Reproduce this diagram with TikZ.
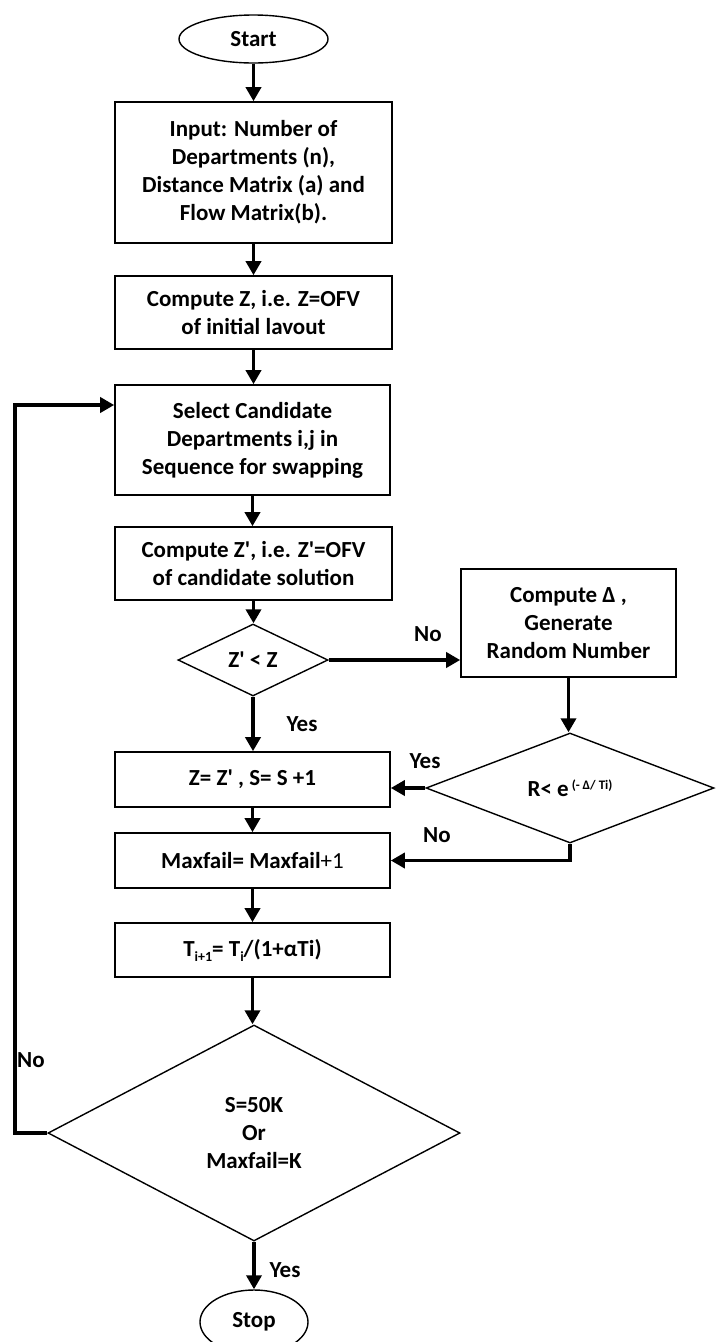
\documentclass[tikz,border=0pt]{standalone}
\usepackage{fontspec}
\setmainfont{Carlito}
\usetikzlibrary{shapes.geometric,arrows.meta,calc}
\newcommand\aq{\textquotesingle}
\begin{document}
\begin{tikzpicture}[x=1pt,y=-1pt,
  every node/.style={font=\fontsize{23}{28}\selectfont\bfseries},
  box/.style={draw, line width=1.6pt, rectangle, inner sep=0pt, align=center},
  term/.style={draw, line width=1.4pt, ellipse, inner sep=0pt},
  dec/.style={draw, line width=1.4pt, diamond, inner sep=0pt, align=center},
  arr/.style={line width=3.6pt, -{Triangle[length=14pt,width=15pt]}},
  lbl/.style={anchor=base, inner sep=0pt}]
\useasboundingbox (0,0) rectangle (719,1342);
\clip (0,0) rectangle (719,1342);
\node[term, minimum width=149pt, minimum height=48pt] (start) at (253.5,39) {Start};
\node[box, minimum width=277pt, minimum height=141pt] (input) at (253.5,172.5) {Input: Number of\\Departments (n),\\Distance Matrix (a) and\\Flow Matrix(b).};
\node[box, minimum width=277pt, minimum height=73pt] (cz) at (253.5,312.5) {Compute Z, i.e. Z=OFV\\of initial lavout};
\node[box, minimum width=275pt, minimum height=110pt] (sel) at (252.5,440) {Select Candidate\\Departments i,j in\\Sequence for swapping};
\node[box, minimum width=277pt, minimum height=73pt] (czp) at (253.5,563.5) {Compute Z\aq, i.e. Z\aq=OFV\\of candidate solution};
\node[dec, minimum width=150pt, minimum height=72pt, shape aspect=2.08] (zd) at (253,660) {Z\aq{} < Z};
\node[box, minimum width=215pt, minimum height=108pt] (delta) at (568.5,623) {Compute Δ ,\\Generate\\Random Number};
\node[dec, minimum width=288pt, minimum height=110pt, shape aspect=2.6] (rd) at (570,788) {R<~e\hspace{3pt}\raisebox{7pt}{\fontsize{13}{13}\selectfont (- Δ/ Ti)}};
\node[box, minimum width=275pt, minimum height=55pt] (zs) at (252.5,779.5) {Z= Z\aq{} , S= S +1};
\node[box, minimum width=275pt, minimum height=55pt] (mf) at (252.5,860.5) {Maxfail= Maxfail{\mdseries+1}};
\node[box, minimum width=275pt, minimum height=54pt] (tb) at (252.5,950) {T\raisebox{-5pt}{\fontsize{14}{14}\selectfont i+1}= T\raisebox{-5pt}{\fontsize{14}{14}\selectfont i}/(1+αTi)};
\node[dec, minimum width=412pt, minimum height=216pt, shape aspect=1.9] (bd) at (254,1133) {S=50K\\Or\\Maxfail=K};
\node[term, minimum width=108pt, minimum height=64pt] (stop) at (254,1322) {Stop};
\draw[arr] (start.south) -- (start.south |- input.north);
\draw[arr] (input.south) -- (input.south |- cz.north);
\draw[arr] (cz.south) -- (cz.south |- sel.north);
\draw[arr] (sel.south) -- (sel.south |- czp.north);
\draw[arr] (czp.south) -- (czp.south |- zd.north);
\draw[arr] (zd.east) -- (zd.east -| delta.west);
\draw[arr] (zd.south) -- (zd.south |- zs.north);
\draw[arr] (delta.south) -- (delta.south |- rd.north);
\draw[arr] (rd.west) -- (rd.west -| zs.east);
\draw[arr] (rd.south) |- (mf.east);
\draw[arr] (zs.south) -- (zs.south |- mf.north);
\draw[arr] (mf.south) -- (mf.south |- tb.north);
\draw[arr] (tb.south) -- (tb.south |- bd.north);
\draw[arr] (bd.south) -- (bd.south |- stop.north);
\coordinate (fb) at (15,405);
\draw[arr] (bd.west) -| (fb) -- (fb -| sel.west);
\node[lbl] (no1) at (428,641) {No};
\node[lbl] (yes1) at (302,731) {Yes};
\node[lbl] (yes2) at (425,768) {Yes};
\node[lbl] (no2) at (437,842) {No};
\node[lbl] (no3) at (31,1067) {No};
\node[lbl] (yes3) at (285,1277) {Yes};
\end{tikzpicture}
\end{document}
